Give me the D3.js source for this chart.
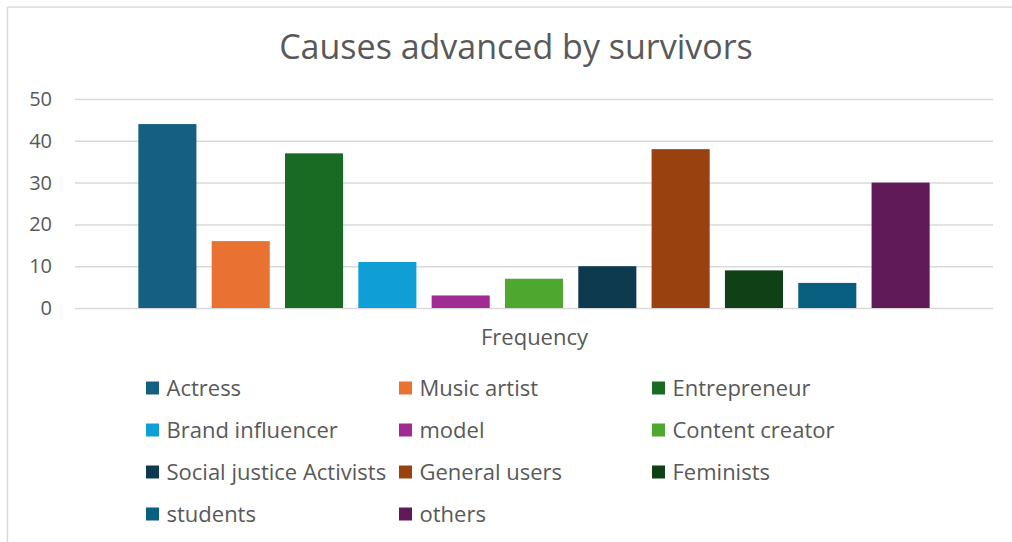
<!DOCTYPE html>
<html>
<head>
<meta charset="utf-8">
<script src="https://cdn.jsdelivr.net/npm/d3@7"></script>
<style>
  html, body { margin: 0; padding: 0; background: #fff; }
  svg { display: block; }
  text { font-family: "Open Sans", "Liberation Sans", Arial, sans-serif; fill: #595959; }
</style>
</head>
<body>
<svg id="chart" width="1012" height="542"></svg>
<script>
// Respondent groups and their counts (single "Frequency" category)
const groups = [
  "Actress", "Music artist", "Entrepreneur",
  "Brand influencer", "model", "Content creator",
  "Social justice Activists", "General users", "Feminists",
  "students", "others"
];
const frequency = [44, 16, 37, 11, 3, 7, 10, 38, 9, 6, 30];
const colors = [
  "#156082", "#E97132", "#196B24",
  "#0F9ED5", "#A02B93", "#4EA72E",
  "#0D3A4E", "#99410F", "#0F4016",
  "#095F80", "#601A58"
];
const yTicks = [0, 10, 20, 30, 40, 50];
const chartTitle = "Causes advanced by survivors";
const categoryLabel = "Frequency";

const fontStack = "'Open Sans', 'Liberation Sans', Arial, sans-serif";
const svg = d3.select("#chart");

// outer frame: top and left edges
svg.append("line").attr("x1", 7.5).attr("x2", 1012).attr("y1", 7).attr("y2", 7)
  .attr("stroke", "#d9d9d9").attr("stroke-width", 1.5);
svg.append("line").attr("x1", 7.5).attr("x2", 7.5).attr("y1", 7).attr("y2", 542)
  .attr("stroke", "#d9d9d9").attr("stroke-width", 1.5);

const plot = { left: 75, right: 993, top: 99, bottom: 308 };

const y = d3.scaleLinear().domain([0, 50]).range([plot.bottom, plot.top]);
const x = d3.scaleBand().domain(groups)
  .range([plot.left, plot.right])
  .paddingInner(0.208).paddingOuter(0.864);

// title
svg.append("text")
  .attr("x", 516).attr("y", 59)
  .attr("text-anchor", "middle")
  .style("font-size", "34px")
  .text(chartTitle);

// y axis with gridlines
const yAxis = svg.append("g")
  .attr("transform", `translate(${plot.left},0)`)
  .call(d3.axisLeft(y).tickValues(yTicks)
    .tickSize(-(plot.right - plot.left)).tickPadding(23));
yAxis.select(".domain").remove();
yAxis.selectAll(".tick line").attr("stroke", "#d9d9d9").attr("stroke-width", 1.5);
yAxis.selectAll(".tick text")
  .style("font-size", "20px")
  .style("font-family", fontStack)
  .attr("fill", "#595959");

// bars
svg.append("g").selectAll("rect")
  .data(groups)
  .join("rect")
  .attr("x", d => x(d))
  .attr("width", x.bandwidth())
  .attr("y", (d, i) => y(frequency[i]))
  .attr("height", (d, i) => y(0) - y(frequency[i]))
  .attr("fill", (d, i) => colors[i]);

// category label
svg.append("text")
  .attr("x", 534.5).attr("y", 345)
  .attr("text-anchor", "middle")
  .style("font-size", "22px")
  .text(categoryLabel);

// legend: three columns, four rows
const colX = [146, 399, 652];
const rowY = [388, 430, 472, 514];
const legend = svg.append("g").selectAll("g")
  .data(groups)
  .join("g")
  .attr("transform", (d, i) => `translate(${colX[i % 3]},${rowY[Math.floor(i / 3)]})`);
legend.append("rect")
  .attr("x", 0).attr("y", -6.5).attr("width", 13).attr("height", 13)
  .attr("fill", (d, i) => colors[i]);
legend.append("text")
  .attr("x", 20.5).attr("y", 0).attr("dy", "0.36em")
  .style("font-size", "22px")
  .text(d => d);
</script>
</body>
</html>
